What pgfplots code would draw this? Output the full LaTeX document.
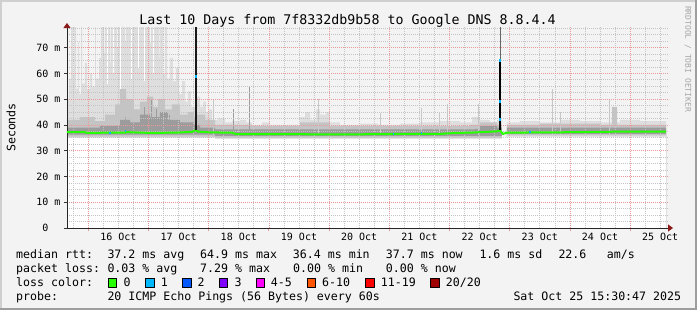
\documentclass[border=0pt]{standalone}
\usepackage{pgfplots}
\pgfplotsset{compat=1.18}
\usepackage{pgfplotstable}
\usepackage{fontspec}
\setmainfont{DejaVu Sans Mono}
\usetikzlibrary{arrows.meta}
\definecolor{back}{HTML}{F3F3F3}
\definecolor{shadeA}{HTML}{CFCFCF}
\definecolor{shadeB}{HTML}{9E9E9E}
\definecolor{mgrid}{HTML}{E89A9A}
\definecolor{ngrid}{HTML}{C4C4C4}
\definecolor{arrowc}{HTML}{8B1A1A}
\definecolor{smokeL}{HTML}{DEDEDE}
\definecolor{smokeM}{HTML}{C4C4C4}
\definecolor{smokeD}{HTML}{9C9C9C}
\definecolor{lc0}{HTML}{26FF00}
\definecolor{lc1}{HTML}{00B8FF}
\definecolor{lc2}{HTML}{0059FF}
\definecolor{lc3}{HTML}{7E00FF}
\definecolor{lc4}{HTML}{FF00FF}
\definecolor{lc6}{HTML}{FF5500}
\definecolor{lc11}{HTML}{FF0000}
\definecolor{lc20}{HTML}{A10000}
\newcommand{\legfont}{\fontsize{11.6bp}{14bp}\selectfont}
\newcommand{\axfont}{\fontsize{10bp}{12bp}\selectfont}
\newcommand{\titfont}{\fontsize{13.3bp}{16bp}\selectfont}

% x = days since 15 Oct 00:00
\pgfplotstableread{
x y
0.646 50
0.680 58
0.713 78
0.746 60
0.763 78
0.796 54
0.829 72
0.846 52
0.879 78
0.896 56
0.945 64
0.979 54
1.028 60
1.062 55
1.112 78
1.128 58
1.178 66
1.211 78
1.261 68
1.278 78
1.361 64
1.377 78
1.477 70
1.494 78
1.610 72
1.627 78
1.743 74
1.759 78
2.025 72
2.042 78
2.175 66
2.191 78
2.241 60
2.274 78
2.308 58
2.357 66
2.407 57
2.457 62
2.507 52
2.557 57
2.607 49
2.656 53
2.706 47
2.756 47
2.806 51
2.856 47
2.906 49
2.955 45
3.005 46
3.055 42
3.155 42.5
3.271 41
3.387 41.5
3.520 42
3.620 41
3.719 40
3.885 41
4.018 40
4.517 43
4.600 45
4.683 42
4.783 46
4.849 44
4.949 45
5.015 41
5.181 40
5.513 40.5
5.812 40
6.178 40.5
6.510 41
6.842 41.5
7.175 41
7.374 43
7.507 42
7.673 41
7.789 42
7.872 0
7.955 41
8.171 41.5
8.503 41
8.836 42
9.168 41.5
9.500 41
9.832 42
10.165 41.5
10.597 41.5
}\smokeLhi

\pgfplotstableread{
x y
0.646 42
0.862 43
1.112 41.5
1.278 44
1.444 48
1.527 54
1.627 50
1.759 46
1.859 49
1.975 51
2.075 47
2.158 50
2.274 46
2.391 48
2.523 44
2.656 45
2.756 43
2.806 44
2.939 42
3.105 40
3.719 39.5
4.517 41
5.015 39.5
7.341 40
7.507 41
7.789 40
7.872 0
7.955 40
8.503 40.5
9.500 40
9.699 47
9.783 40
10.597 40
}\smokeMhi

\pgfplotstableread{
x y
0.646 39
1.194 39.5
1.527 42
1.693 41
1.859 44
2.025 43
2.191 45
2.324 42
2.523 41
2.756 40
2.856 39
3.105 38.3
7.424 38.5
7.507 39.5
7.789 39
7.872 0
7.955 39
10.597 39
}\smokeDhi

\pgfplotstableread{
x y
0.646 36.2
3.105 35.7
7.872 0
7.955 36.4
10.597 36.4
}\smokeDlo

\pgfplotstableread{
x y
0.646 35.5
3.105 35.1
7.872 0
7.955 35.9
10.597 35.9
}\smokeMlo

\pgfplotstableread{
x y
0.646 35.0
3.105 34.6
7.872 35.4
10.597 35.4
}\smokeLlo

% thin light smoke spikes
\pgfplotstableread{
x y
3.072 36
3.072 50
3.072 nan
4.832 36
4.832 50
4.832 nan
5.846 36
5.846 44.6
5.846 nan
6.543 36
6.543 46.5
6.543 nan
6.842 36
6.842 44.6
6.842 nan
6.975 36
6.975 48
6.975 nan
7.474 36
7.474 48
7.474 nan
8.719 36
8.719 54
8.719 nan
8.836 36
8.836 45
8.836 nan
9.666 36
9.666 50
9.666 nan
}\spikesL

% darker smoke spikes
\pgfplotstableread{
x y
3.670 37
3.670 55
3.670 nan
3.420 37
3.420 46
3.420 nan
1.610 37
1.610 43
1.610 nan
1.942 37
1.942 47
1.942 nan
2.058 37
2.058 50
2.058 nan
2.141 37
2.141 46
2.141 nan
2.357 37
2.357 44
2.357 nan
}\spikesD

% gaps in the upper smoke
\pgfplotstableread{
x y
1.311 56
1.311 78
1.311 nan
1.427 60
1.427 78
1.427 nan
1.543 54
1.543 78
1.543 nan
1.710 58
1.710 78
1.710 nan
1.826 62
1.826 78
1.826 nan
1.926 57
1.926 78
1.926 nan
2.091 60
2.091 78
2.091 nan
}\gapsW

% median rtt
\pgfplotstableread{
x y
0.646 37.2
0.945 37.2
0.979 36.9
1.361 37.0
1.610 37.0
1.643 37.2
2.025 36.9
2.440 37.0
2.723 37.3
2.785 38
2.822 37.4
3.022 37.1
3.387 37.0
3.454 36.4
4.517 36.4
5.181 36.3
6.178 36.5
6.842 36.5
7.092 36.9
7.341 37.0
7.789 37.5
7.839 37.8
7.889 36.5
7.955 37.0
8.503 37.1
9.168 37.2
9.832 37.4
10.597 37.4
}\median

% median points with one lost ping
\pgfplotstableread{
x y
2.785 58.2
2.785 59.2
2.785 nan
7.839 64.4
7.839 65.4
7.839 nan
7.839 48.5
7.839 49.5
7.839 nan
7.839 41.6
7.839 42.6
7.839 nan
1.352 37.0
1.372 37.0
1.372 nan
1.602 37.7
1.620 37.7
1.620 nan
6.058 36.5
6.076 36.5
6.076 nan
6.528 36.9
6.546 36.9
6.546 nan
8.328 37.2
8.346 37.2
8.346 nan
}\lossone

\begin{document}
\begin{tikzpicture}[x=1bp,y=1bp]
\fill[shadeB] (0,0) rectangle (697,310);
\fill[shadeA] (0,2) rectangle (695,310);
\fill[back] (2,2) rectangle (695,308);

\begin{axis}[
  set layers, axis on top,
  at={(67bp,82bp)}, anchor=south west,
  scale only axis, width=602bp, height=201bp,
  xmin=0.6464, xmax=10.6464, ymin=0, ymax=78,
  axis lines=left,
  axis background/.style={fill=white},
  axis line style={draw=black!85, line width=0.8bp},
  x axis line style={-{Triangle[length=5bp,width=7bp,color=arrowc]}, shorten >=-4bp},
  y axis line style={-{Triangle[length=5bp,width=7bp,color=arrowc]}, shorten >=-4bp},
  xtick={1,...,10}, xticklabels={},
  extra x ticks={1.5,2.5,...,10.5},
  extra x tick labels={16 Oct,17 Oct,18 Oct,19 Oct,20 Oct,21 Oct,22 Oct,23 Oct,24 Oct,25 Oct},
  extra x tick style={grid=none, major tick length=0pt},
  xticklabel style={yshift=-1.5bp},
  minor xtick={0.75,1.25,1.5,1.75,2.25,2.5,2.75,3.25,3.5,3.75,4.25,4.5,4.75,5.25,5.5,5.75,6.25,6.5,6.75,7.25,7.5,7.75,8.25,8.5,8.75,9.25,9.5,9.75,10.25,10.5},
  ytick={0,10,...,70},
  yticklabels={0\phantom{\ m},10 m,20 m,30 m,40 m,50 m,60 m,70 m},
  minor ytick={2.5,5,7.5,12.5,15,17.5,22.5,25,27.5,32.5,35,37.5,42.5,45,47.5,52.5,55,57.5,62.5,65,67.5,72.5,75,77.5},
  grid=both,
  major grid style={draw=mgrid, dash pattern=on 1bp off 1bp, line width=0.7bp},
  minor grid style={draw=ngrid, dash pattern=on 1bp off 1bp, line width=0.7bp},
  tick align=outside,
  major tick length=3bp, minor tick length=0pt,
  xtick style={draw=mgrid, line width=0.8bp},
  ytick style={draw=black!80, line width=0.8bp},
  ticklabel style={font=\axfont},
]
\addplot[const plot, fill=smokeL, draw=none] table {\smokeLhi} \closedcycle;
\addplot[const plot, fill=smokeM, draw=none] table {\smokeMhi} \closedcycle;
\addplot[const plot, fill=smokeD, draw=none] table {\smokeDhi} \closedcycle;
\addplot[const plot, fill=smokeM, draw=none] table {\smokeDlo} \closedcycle;
\addplot[const plot, fill=smokeL, draw=none] table {\smokeMlo} \closedcycle;
\addplot[const plot, fill=white, draw=none] table {\smokeLlo} \closedcycle;
\addplot[white, line width=1bp, unbounded coords=jump] table {\gapsW};
\addplot[smokeL!90!black, line width=1bp, unbounded coords=jump] table {\spikesL};
\addplot[smokeD, line width=1bp, unbounded coords=jump] table {\spikesD};
\addplot[on layer=axis foreground, lc0, line width=2bp] table {\median};
\addplot[on layer=axis foreground, black!90, line width=2bp] coordinates {(2.785,38) (2.785,78)};
\addplot[on layer=axis foreground, black!60, line width=0.8bp] coordinates {(7.839,60) (7.839,78)};
\addplot[on layer=axis foreground, black, line width=2.5bp] coordinates {(7.839,38) (7.839,64.9)};
\addplot[on layer=axis foreground, lc1, line width=2bp, unbounded coords=jump] table {\lossone};
\end{axis}

% title and axis label
\node[anchor=base, inner sep=0] at (347.5,286) {\titfont Last 10 Days from 7f8332db9b58 to Google DNS 8.8.4.4};
\node[rotate=90, inner sep=0] at (11,182.5) {\legfont Seconds};
\node[rotate=-90, inner sep=0, text=black!35] at (688,251) {\fontsize{8bp}{10bp}\selectfont RRDTOOL / TOBI OETIKER};

% legend
\begin{scope}[every node/.style={anchor=base west, inner sep=0}]
\node at (16,51.7) {\legfont median rtt:};
\node at (107.3,51.7) {\legfont 37.2 ms avg};
\node at (200,51.7) {\legfont 64.9 ms max};
\node at (292.7,51.7) {\legfont 36.4 ms min};
\node at (385.7,51.7) {\legfont 37.7 ms now};
\node at (479.3,51.7) {\legfont 1.6 ms sd};
\node at (558.3,51.7) {\legfont 22.6};
\node at (606.7,51.7) {\legfont am/s};

\node at (16,37.7) {\legfont packet loss:};
\node at (107.3,37.7) {\legfont 0.03 \% avg};
\node at (200,37.7) {\legfont 7.29 \% max};
\node at (293,37.7) {\legfont 0.00 \% min};
\node at (385.7,37.7) {\legfont 0.00 \% now};

\node at (16,23.7) {\legfont loss color:};
\node at (123.3,23.7) {\legfont 0};
\node at (160.7,23.7) {\legfont 1};
\node at (197.3,23.7) {\legfont 2};
\node at (234.3,23.7) {\legfont 3};
\node at (270.7,23.7) {\legfont 4-5};
\node at (322,23.7) {\legfont 6-10};
\node at (380.7,23.7) {\legfont 11-19};
\node at (445.7,23.7) {\legfont 20/20};

\node at (16,10) {\legfont probe:};
\node at (107.3,10) {\legfont 20 ICMP Echo Pings (56 Bytes) every 60s};
\node at (513.3,10) {\legfont Sat Oct 25 15:30:47 2025};
\end{scope}
\begin{scope}[every node/.style={draw=black, line width=0.8bp, minimum size=8.4bp, inner sep=0}]
\node[fill=lc0] at (112.5,27.3) {};
\node[fill=lc1] at (149.9,27.3) {};
\node[fill=lc2] at (186.9,27.3) {};
\node[fill=lc3] at (223.5,27.3) {};
\node[fill=lc4] at (260.2,27.3) {};
\node[fill=lc6] at (311.5,27.3) {};
\node[fill=lc11] at (369.9,27.3) {};
\node[fill=lc20] at (434.9,27.3) {};
\end{scope}
\end{tikzpicture}
\end{document}
